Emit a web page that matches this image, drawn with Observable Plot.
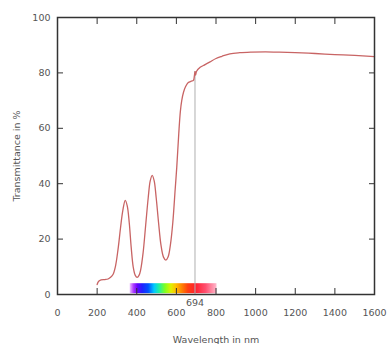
<!DOCTYPE html>
<html>
<head>
<meta charset="utf-8">
<script src="https://cdn.jsdelivr.net/npm/d3@7"></script>
<script src="https://cdn.jsdelivr.net/npm/@observablehq/plot@0.6"></script>
<style>
  html, body { margin: 0; padding: 0; background: #fff; }
</style>
</head>
<body>
<div id="chart"></div>
<script>
// Measured spectrum
const wavelength = [200,208,220,240,255,268,280,292,305,318,330,342,352,362,372,382,392,402,412,420,432,445,458,468,478,488,498,510,522,535,547,558,570,582,594,602,612,620,627,636,646,660,675,686,691,694,697,702,720,745,770,800,830,870,920,980,1050,1120,1200,1300,1400,1500,1600];
const transmittance = [3.6,4.8,5.3,5.4,5.6,6.2,7.2,10,16,24,30.5,34,32,26,17,10,7,6.2,7,9,15,25,35,41,43,41,35,26,18,13.5,12.4,13.5,18,26,38,46,58,66,70,73,75,76.5,77,77.3,79,80.5,79.2,80.6,82,83,84,85.2,86,86.9,87.3,87.5,87.6,87.5,87.3,87,86.6,86.3,85.9];

// Tick values
const xTickValues = [0,200,400,600,800,1000,1200,1400,1600];
const xInnerTicks = [200,400,600,800,1000,1200,1400];
const yTickValues = [0,20,40,60,80,100];
const yInnerTicks = [20,40,60,80];

// Marked wavelength (ruby laser line)
const markerWavelength = [694];

// Visible spectrum band (nm and % units)
const bandStart = 367, bandEnd = 805, bandLow = 0.3, bandHigh = 3.9;
const bandStopWavelengths = [367,385,405,430,460,490,515,545,575,600,625,660,700,750,805];
const bandStopColors = ["#ecc0ff","#b040ff","#6a00ff","#2020ff","#0050ff","#00c8ff","#20f0a0","#80ff20","#e0f000","#ffc000","#ff8c00","#ff4010","#ff2030","#ff5070","#ffb8cc"];

const data = wavelength.map((w, i) => ({wavelength: w, value: transmittance[i]}));
const markers = markerWavelength.map(w => ({wavelength: w, value: transmittance[wavelength.indexOf(w)]}));
const band = [{start: bandStart, end: bandEnd, low: bandLow, high: bandHigh}];

const chart = Plot.plot({
  width: 387,
  height: 344,
  marginLeft: 57,
  marginRight: 13,
  marginTop: 17,
  marginBottom: 50,
  style: {fontFamily: "DejaVu Sans", fontSize: "9.5px", color: "#555", background: "white"},
  x: {domain: [0, 1600]},
  y: {domain: [0, 100]},
  marks: [
    Plot.rect(band, {x1: "start", x2: "end", y1: "low", y2: "high", fill: "url(#spectrum)"}),
    Plot.ruleX(markers, {x: "wavelength", y1: 0, y2: "value", stroke: "#b0b0b0", strokeWidth: 1}),
    Plot.line(data, {x: "wavelength", y: "value", stroke: "#c86464", strokeWidth: 1.3, curve: "catmull-rom"}),
    Plot.frame({stroke: "#333", strokeWidth: 1.5}),
    Plot.axisX(xInnerTicks, {anchor: "bottom", tickSize: -6, text: null, label: null, stroke: "#333"}),
    Plot.axisX(xInnerTicks, {anchor: "top", tickSize: -6, text: null, label: null, stroke: "#333"}),
    Plot.axisY(yInnerTicks, {anchor: "left", tickSize: -6, text: null, label: null, stroke: "#333"}),
    Plot.axisY(yInnerTicks, {anchor: "right", tickSize: -6, text: null, label: null, stroke: "#333"}),
    Plot.axisX(xTickValues, {anchor: "bottom", tickSize: 0, tickPadding: 15, tickFormat: d => String(d), label: "Wavelength in nm", labelAnchor: "center", labelOffset: 48, labelArrow: "none"}),
    Plot.axisY(yTickValues, {anchor: "left", tickSize: 0, tickPadding: 7, tickFormat: d => String(d), label: "Transmittance in %", labelAnchor: "center", labelOffset: 44, labelArrow: "none"}),
    Plot.text(markers, {x: "wavelength", y: 0, text: d => String(d.wavelength), dy: 8, lineAnchor: "middle", fill: "#555"})
  ]
});

const defs = d3.select(chart).insert("defs", ":first-child");
const grad = defs.append("linearGradient").attr("id", "spectrum").attr("x1", "0").attr("x2", "1").attr("y1", "0").attr("y2", "0");
grad.selectAll("stop")
  .data(bandStopWavelengths)
  .join("stop")
  .attr("offset", w => (w - bandStart) / (bandEnd - bandStart))
  .attr("stop-color", (w, i) => bandStopColors[i]);

document.getElementById("chart").appendChild(chart);
</script>
</body>
</html>
